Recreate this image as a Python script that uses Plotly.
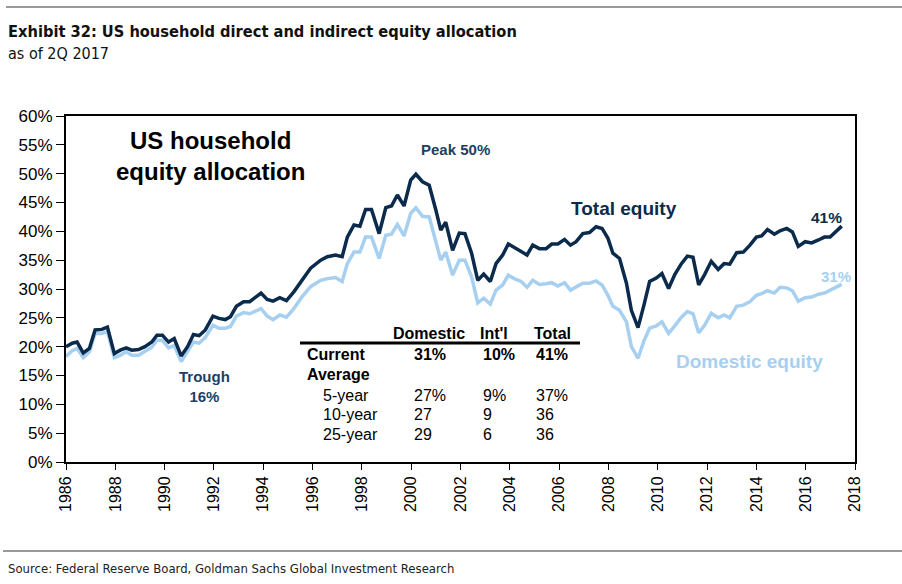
import plotly.graph_objects as go

years = [1986.00,1986.25,1986.45,1986.70,1986.95,1987.18,1987.45,1987.68,1987.96,1988.20,1988.44,1988.67,1988.94,
1989.20,1989.48,1989.69,1989.91,1990.16,1990.39,1990.67,1990.93,1991.17,1991.40,1991.65,1991.96,1992.20,1992.46,
1992.67,1992.91,1993.20,1993.45,1993.68,1993.91,1994.16,1994.40,1994.67,1994.94,1995.24,1995.58,1995.92,1996.33,
1996.60,1996.93,1997.20,1997.41,1997.68,1997.92,1998.15,1998.39,1998.70,1998.97,1999.20,1999.44,1999.71,1999.98,
2000.19,2000.46,2000.73,2001.00,2001.20,2001.40,2001.68,2001.95,2002.18,2002.45,2002.70,2002.94,2003.21,2003.44,
2003.71,2003.94,2004.18,2004.46,2004.70,2004.93,2005.20,2005.47,2005.70,2005.95,2006.22,2006.46,2006.69,2006.96,
2007.23,2007.50,2007.74,2007.98,2008.18,2008.45,2008.73,2008.93,2009.20,2009.44,2009.67,2009.94,2010.17,2010.44,
2010.69,2010.96,2011.20,2011.43,2011.66,2011.90,2012.17,2012.45,2012.69,2012.92,2013.20,2013.47,2013.74,2014.00,
2014.21,2014.45,2014.73,2014.96,2015.23,2015.46,2015.70,2015.98,2016.24,2016.52,2016.76,2016.99,2017.20,2017.46]

total_equity = [20.0,20.6,20.8,18.9,19.7,22.9,23.0,23.4,18.8,19.4,19.8,19.4,19.5,
20.0,20.8,22.0,22.0,20.8,21.4,18.4,20.0,22.1,21.9,22.9,25.3,24.9,24.7,
25.2,27.0,27.8,27.8,28.5,29.3,28.2,27.9,28.5,28.0,29.5,31.5,33.6,35.0,
35.6,35.9,35.6,39.0,41.1,40.9,43.8,43.8,39.6,44.1,44.4,46.3,44.4,48.9,
49.9,48.6,48.0,43.7,40.2,41.6,36.7,39.7,39.6,36.2,31.5,32.6,31.3,34.4,
35.9,37.8,37.2,36.6,35.9,37.6,37.0,37.0,37.8,37.8,38.6,37.6,38.2,39.6,
39.8,40.8,40.5,38.8,36.2,35.3,31.0,26.3,23.3,27.2,31.3,31.9,32.7,30.1,
32.5,34.4,35.7,35.5,30.7,32.5,34.8,33.4,34.4,34.3,36.3,36.4,37.6,39.0,
39.2,40.3,39.5,40.1,40.5,39.9,37.4,38.2,38.0,38.5,39.0,39.0,39.9,40.9]

domestic_equity = [18.3,19.3,19.7,18.1,19.1,22.3,22.3,22.6,18.1,18.5,19.1,18.5,18.5,
19.1,19.9,21.1,21.1,19.8,20.2,17.4,19.1,20.8,20.6,21.6,23.7,23.2,23.2,
23.5,25.3,25.9,25.7,26.2,26.6,25.3,24.7,25.5,25.1,26.6,28.7,30.4,31.5,
31.8,32.0,31.3,34.4,36.4,36.4,39.0,39.0,35.3,39.3,39.5,41.2,39.2,43.1,
44.1,42.6,42.5,38.5,35.0,36.4,32.4,35.0,35.0,32.1,27.6,28.4,27.4,29.8,
30.7,32.4,31.8,31.3,30.3,31.5,30.8,30.9,31.1,30.5,31.1,29.8,30.3,31.0,
31.0,31.4,30.7,28.9,27.0,26.3,24.3,20.0,18.0,21.0,23.2,23.6,24.3,22.3,
23.6,25.1,26.1,25.7,22.4,23.7,25.8,25.0,25.5,25.0,27.0,27.2,27.8,28.9,
29.2,29.7,29.3,30.3,30.2,29.7,27.9,28.5,28.6,29.1,29.3,29.8,30.3,30.8]

table_cols = ["Domestic", "Int'l", "Total"]
table_rows = ["Current", "Average", "5-year", "10-year", "25-year"]
table_vals = [["31%", "10%", "41%"], ["", "", ""], ["27%", "9%", "37%"], ["27", "9", "36"], ["29", "6", "36"]]

DARK = "#0b2b4c"
LIGHT = "#a7d0f0"
NARROW = "Liberation Sans Narrow, DejaVu Sans Condensed, Arial Narrow, sans-serif"
ARIAL = "Liberation Sans, Arial, sans-serif"

fig = go.Figure()
fig.add_trace(go.Scatter(x=years, y=domestic_equity, mode="lines",
                         line=dict(color=LIGHT, width=3.5), name="Domestic equity", hoverinfo="skip"))
fig.add_trace(go.Scatter(x=years, y=total_equity, mode="lines",
                         line=dict(color=DARK, width=3.5), name="Total equity", hoverinfo="skip"))

W, H = 902, 584
L, R, T, B = 66, 855, 116, 462

fig.update_layout(
    width=W, height=H,
    margin=dict(l=L, r=W - R, t=T, b=H - B),
    paper_bgcolor="white", plot_bgcolor="white",
    showlegend=False,
    font=dict(family=ARIAL, size=16, color="black"),
    xaxis=dict(range=[1986, 2018], tickmode="linear", tick0=1986, dtick=2, tickangle=-90,
               showgrid=False, zeroline=False, showline=True, linecolor="black", linewidth=2,
               mirror=True, ticks="outside", ticklen=6, tickcolor="black", tickwidth=1,
               tickfont=dict(family=ARIAL, size=16, color="black")),
    yaxis=dict(range=[0, 60], tickmode="linear", tick0=0, dtick=5, ticksuffix="%",
               showgrid=False, zeroline=False, showline=True, linecolor="black", linewidth=2,
               mirror=True, ticks="outside", ticklen=8, tickcolor="black", tickwidth=1,
               tickfont=dict(family=ARIAL, size=17, color="black")),
)

def px_ann(x, y, text, size, color="black", bold=False, xanchor="center", family=ARIAL, align="center"):
    t = f"<b>{text}</b>" if bold else text
    fig.add_annotation(xref="paper", yref="paper",
                       x=(x - L) / (R - L), y=(B - y) / (B - T),
                       text=t, showarrow=False, xanchor=xanchor, yanchor="middle", align=align,
                       font=dict(family=family, size=size, color=color))

def fig_text(x, y, text, size, color="black", bold=False, family=NARROW):
    t = f"<b>{text}</b>" if bold else text
    fig.add_annotation(xref="paper", yref="paper",
                       x=(x - L) / (R - L), y=(B - y) / (B - T),
                       text=t, showarrow=False, xanchor="left", yanchor="middle",
                       font=dict(family=family, size=size, color=color))

fig_text(6, 31, "Exhibit 32: US household direct and indirect equity allocation", 16.3, "#111111", bold=True)
fig_text(6, 53, "as of 2Q 2017", 16, "#111111")
fig_text(6, 568, "Source: Federal Reserve Board, Goldman Sachs Global Investment Research", 13, "#222222")

# Separator lines
fig.add_shape(type="line", xref="paper", yref="paper",
              x0=(6 - L) / (R - L), x1=(W - L) / (R - L), y0=(B - 7) / (B - T), y1=(B - 7) / (B - T),
              line=dict(color="#777777", width=1.5))
fig.add_shape(type="line", xref="paper", yref="paper",
              x0=(3 - L) / (R - L), x1=(W - L) / (R - L), y0=(B - 551) / (B - T), y1=(B - 551) / (B - T),
              line=dict(color="#777777", width=1.5))

# Chart annotations
px_ann(210, 156, "US household<br>equity allocation", 24, "black", bold=True)
px_ann(455, 149, "Peak 50%", 15, "#1d3f63", bold=True)
px_ann(204, 386, "Trough<br>16%", 15, "#1d3f63", bold=True)
px_ann(624, 208, "Total equity", 19, DARK, bold=True)
px_ann(826, 217, "41%", 15.5, DARK, bold=True)
px_ann(836, 276, "31%", 15, LIGHT, bold=True)
px_ann(749, 361, "Domestic equity", 19, LIGHT, bold=True)

# Table
col_centers = [429, 494, 552]
col_lefts = [412, 481, 534]
row_ys = [354, 374, 395, 414, 434]
for c, name in zip(col_centers, table_cols):
    px_ann(c, 333, name, 16, "black", bold=True)
fig.add_shape(type="line", xref="paper", yref="paper",
              x0=(300 - L) / (R - L), x1=(580 - L) / (R - L),
              y0=(B - 343) / (B - T), y1=(B - 343) / (B - T),
              line=dict(color="black", width=3))
for i, (rname, ry) in enumerate(zip(table_rows, row_ys)):
    bold = i < 2
    rx = 305 if i < 2 else 321
    px_ann(rx, ry, rname, 16, "black", bold=bold, xanchor="left")
    for cl, val in zip(col_lefts, table_vals[i]):
        if val:
            px_ann(cl, ry, val, 16, "black", bold=bold, xanchor="left")

fig.write_html("out.html")
